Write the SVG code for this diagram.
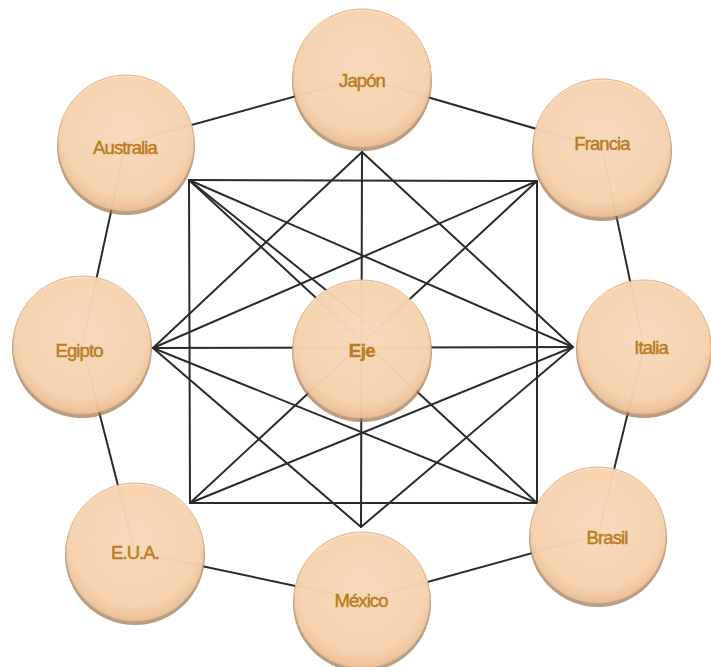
<svg xmlns="http://www.w3.org/2000/svg" width="711" height="667" viewBox="0 0 711 667">
<defs>
<radialGradient id="g" cx="50%" cy="42%" r="58%">
<stop offset="0" stop-color="#FEE0C2"/>
<stop offset="0.8" stop-color="#FDD9B5"/>
<stop offset="1" stop-color="#F0C298"/>
</radialGradient>
</defs>
<style>
.bg{fill:#ffffff}
.c line{stroke:#2b2b2b;stroke-width:2;stroke-linecap:round}
.sh{fill:#9C7550;opacity:0.7}
.n{fill:url(#g);fill-opacity:0.9;stroke:#DDB48D;stroke-width:1}
.t{font-family:"Liberation Sans",Arial,sans-serif;font-size:18.5px;fill:#BA7C1C;text-anchor:middle;dominant-baseline:central;letter-spacing:-0.9px;stroke:#BA7C1C;stroke-width:0.45}
.b{font-weight:bold;letter-spacing:-0.5px}
</style>
<rect class="bg" width="711" height="667"/>
<g id="connectors" class="c">
<line x1="126" y1="143" x2="362" y2="78"/>
<line x1="362" y1="78" x2="602" y2="148"/>
<line x1="602" y1="148" x2="644" y2="347"/>
<line x1="644" y1="347" x2="598" y2="535"/>
<line x1="598" y1="535" x2="362" y2="600"/>
<line x1="362" y1="600" x2="135" y2="552"/>
<line x1="135" y1="552" x2="82" y2="345"/>
<line x1="82" y1="345" x2="126" y2="143"/>
<line x1="189" y1="180" x2="537" y2="181"/>
<line x1="537" y1="181" x2="537" y2="503"/>
<line x1="537" y1="503" x2="190" y2="503"/>
<line x1="190" y1="503" x2="189" y2="180"/>
<line x1="362" y1="152" x2="361" y2="527"/>
<line x1="153" y1="348" x2="573" y2="347"/>
<line x1="189" y1="180" x2="537" y2="503"/>
<line x1="537" y1="181" x2="190" y2="503"/>
<line x1="189" y1="180" x2="573" y2="347"/>
<line x1="190" y1="503" x2="573" y2="347"/>
<line x1="537" y1="181" x2="153" y2="348"/>
<line x1="537" y1="503" x2="153" y2="348"/>
<line x1="362" y1="152" x2="153" y2="348"/>
<line x1="362" y1="152" x2="573" y2="347"/>
<line x1="361" y1="527" x2="153" y2="348"/>
<line x1="361" y1="527" x2="573" y2="347"/>
<line x1="189" y1="180" x2="372" y2="327"/>
</g>
<g id="japon"><circle class="sh" cx="362" cy="81" r="70"/><circle class="n" cx="362" cy="78" r="69"/><text class="t" x="362" y="80">Japón</text></g>
<g id="francia"><circle class="sh" cx="602" cy="151" r="70"/><circle class="n" cx="602" cy="148" r="69"/><text class="t" x="602" y="143">Francia</text></g>
<g id="italia"><circle class="sh" cx="644" cy="350" r="68"/><circle class="n" cx="644" cy="347" r="67"/><text class="t" x="651" y="347">Italia</text></g>
<g id="brasil"><circle class="sh" cx="598" cy="538" r="69"/><circle class="n" cx="598" cy="535" r="68"/><text class="t" x="607" y="537">Brasil</text></g>
<g id="mexico"><circle class="sh" cx="362" cy="603" r="69"/><circle class="n" cx="362" cy="600" r="68"/><text class="t" x="361" y="600">México</text></g>
<g id="eua"><circle class="sh" cx="135" cy="555" r="70"/><circle class="n" cx="135" cy="552" r="69"/><text class="t" x="135" y="552">E.U.A.</text></g>
<g id="egipto"><circle class="sh" cx="82" cy="348" r="70"/><circle class="n" cx="82" cy="345" r="69"/><text class="t" x="79" y="350">Egipto</text></g>
<g id="australia"><circle class="sh" cx="126" cy="146" r="69"/><circle class="n" cx="126" cy="143" r="68"/><text class="t" x="125" y="147">Australia</text></g>
<g id="eje"><circle class="sh" cx="362" cy="352" r="70"/><circle class="n" cx="362" cy="349" r="69"/><text class="t b" x="362" y="350">Eje</text></g>
</svg>
